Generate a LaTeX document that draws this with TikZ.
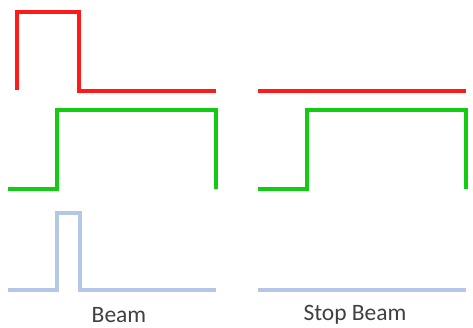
\documentclass[tikz,border=0pt]{standalone}
\usepackage{fontspec}
\setmainfont{Carlito}
\definecolor{sigred}{HTML}{FF1A1A}
\definecolor{siggreen}{HTML}{11CC11}
\definecolor{sigblue}{HTML}{B4C7E7}
\definecolor{captext}{HTML}{404040}
\begin{document}
\begin{tikzpicture}[x=1pt,y=-1pt,
  wave/.style={line width=3.2pt, line join=miter},
  caption/.style={text=captext, font=\fontsize{23.5}{26}\selectfont, inner sep=0pt, anchor=center}]
\useasboundingbox (0,0) rectangle (473,327);
% Beam: left column of timing traces
\draw[wave, sigred]   (17,90) -- (17,12) -- (79,12) -- (79,91) -- (216,91);
\draw[wave, siggreen] (8,189) -- (57,189) -- (57,110) -- (216,110) -- (216,189);
\draw[wave, sigblue]  (8,290) -- (57,290) -- (57,213) -- (80,213) -- (80,290) -- (216,290);
\node[caption] (beam) at (119,315) {Beam};
% Stop Beam: right column of timing traces
\draw[wave, sigred]   (258,91) -- (466,91);
\draw[wave, siggreen] (258,189) -- (307,189) -- (307,110) -- (466,110) -- (466,189);
\draw[wave, sigblue]  (258,290) -- (466,290);
\node[caption] (stopbeam) at (355,315) {Stop Beam};
\end{tikzpicture}
\end{document}
